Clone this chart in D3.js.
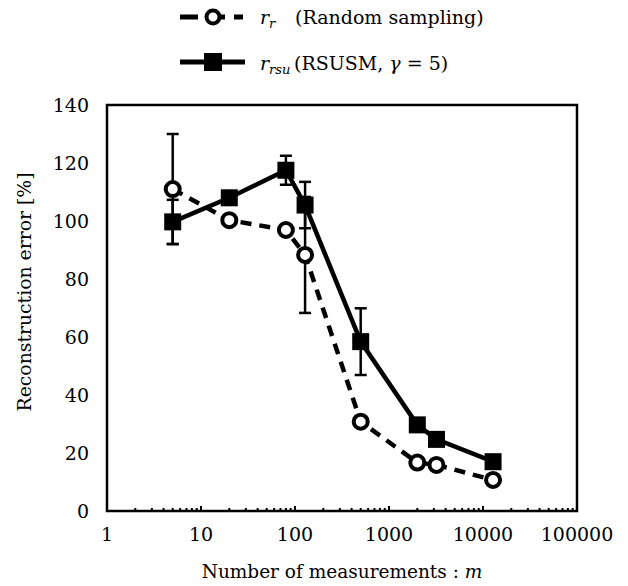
<!DOCTYPE html>
<html><head><meta charset="utf-8">
<script src="https://cdn.jsdelivr.net/npm/d3@7"></script>
<style>body{margin:0;background:#fff}</style>
</head><body><svg id="c" width="628" height="586" font-family="'DejaVu Serif', serif"></svg>
<script>
const measurements = [5, 20, 80, 128, 500, 2000, 3200, 12800];
const randomErr = [111, 100.3, 96.9, 88.3, 30.8, 16.7, 15.9, 10.7];
const randomSd = [19, 0, 0, 20, 0, 0, 0, 0];
const rsusmErr = [99.7, 108, 117.5, 105.5, 58.4, 29.7, 24.7, 17.0];
const rsusmSd = [7.6, 0, 5, 8, 11.5, 0, 0, 0];
const xTicks = [1, 10, 100, 1000, 10000, 100000];
const yTicks = [0, 20, 40, 60, 80, 100, 120, 140];

const svg = d3.select("#c");
const L = 107, R = 577, T = 105, B = 511;
const x = d3.scaleLog().domain([1, 100000]).range([L, R]);
const y = d3.scaleLinear().domain([0, 140]).range([B, T]);
const fs = 19;

const minor = [];
for (let d = 1; d < 100000; d *= 10) for (let k = 2; k <= 9; k++) minor.push(d * k);
svg.append("g").selectAll("line").data(minor).join("line")
  .attr("x1", d => x(d)).attr("x2", d => x(d)).attr("y1", B).attr("y2", B - 3)
  .attr("stroke", "#000").attr("stroke-width", 2);
svg.append("g").selectAll("line").data(xTicks).join("line")
  .attr("x1", d => x(d)).attr("x2", d => x(d)).attr("y1", B).attr("y2", B - 5)
  .attr("stroke", "#000").attr("stroke-width", 2);

svg.append("rect").attr("x", L).attr("y", T).attr("width", R - L).attr("height", B - T)
  .attr("fill", "none").attr("stroke", "#000").attr("stroke-width", 2.5);

svg.append("g").selectAll("text").data(xTicks).join("text")
  .attr("x", d => x(d)).attr("y", 541).attr("text-anchor", "middle")
  .attr("font-size", fs).text(d => d);
svg.append("g").selectAll("text").data(yTicks).join("text")
  .attr("x", 89).attr("y", d => y(d) + 7).attr("text-anchor", "end")
  .attr("font-size", fs).text(d => d);

const xt = svg.append("text").attr("x", 342).attr("y", 578).attr("text-anchor", "middle").attr("font-size", 18.5);
xt.append("tspan").text("Number of measurements : ");
xt.append("tspan").attr("font-style", "italic").text("m");
svg.append("text").attr("transform", "translate(31,292) rotate(-90)").attr("x", -119.5)
  .attr("font-size", fs).attr("textLength", 239).attr("lengthAdjust", "spacingAndGlyphs")
  .text("Reconstruction error [%]");

const series = [
  {vals: randomErr, sd: randomSd, dash: "11,8", marker: "circle"},
  {vals: rsusmErr, sd: rsusmSd, dash: null, marker: "square"}
];
const capW = 6;
series.forEach(s => {
  const g = svg.append("g");
  const rows = measurements.map((m, i) => ({m, v: s.vals[i], sd: s.sd[i]})).filter(r => r.sd > 0);
  rows.forEach(r => {
    g.append("line").attr("x1", x(r.m)).attr("x2", x(r.m)).attr("y1", y(r.v - r.sd)).attr("y2", y(r.v + r.sd))
      .attr("stroke", "#000").attr("stroke-width", 2.5);
    [r.v - r.sd, r.v + r.sd].forEach(e => g.append("line").attr("x1", x(r.m) - capW).attr("x2", x(r.m) + capW)
      .attr("y1", y(e)).attr("y2", y(e)).attr("stroke", "#000").attr("stroke-width", 2.5));
  });
});
series.forEach(s => {
  const line = d3.line().x((d, i) => x(measurements[i])).y(d => y(d));
  svg.append("path").datum(s.vals).attr("d", line).attr("fill", "none").attr("stroke", "#000")
    .attr("stroke-width", 4.5).attr("stroke-dasharray", s.dash);
});
series.forEach(s => {
  const g = svg.append("g");
  if (s.marker === "circle") {
    g.selectAll("circle").data(s.vals).join("circle")
      .attr("cx", (d, i) => x(measurements[i])).attr("cy", d => y(d)).attr("r", 7)
      .attr("fill", "#fff").attr("stroke", "#000").attr("stroke-width", 4);
  } else {
    g.selectAll("rect").data(s.vals).join("rect")
      .attr("x", (d, i) => x(measurements[i]) - 8.5).attr("y", d => y(d) - 8.5)
      .attr("width", 17).attr("height", 17).attr("fill", "#000");
  }
});

const lg = svg.append("g");
lg.append("line").attr("x1", 180).attr("x2", 243).attr("y1", 17).attr("y2", 17)
  .attr("stroke", "#000").attr("stroke-width", 5).attr("stroke-dasharray", "18,9");
lg.append("circle").attr("cx", 213).attr("cy", 17).attr("r", 6.5).attr("fill", "#fff").attr("stroke", "#000").attr("stroke-width", 4);
lg.append("line").attr("x1", 180).attr("x2", 245).attr("y1", 62).attr("y2", 62)
  .attr("stroke", "#000").attr("stroke-width", 5);
lg.append("rect").attr("x", 204).attr("y", 53).attr("width", 18).attr("height", 18).attr("fill", "#000");

const t1 = lg.append("text").attr("x", 260).attr("y", 24).attr("font-size", fs);
t1.append("tspan").attr("font-style", "italic").text("r");
t1.append("tspan").attr("font-style", "italic").attr("font-size", 13).attr("dy", 4).text("r");
lg.append("text").attr("x", 295).attr("y", 24).attr("font-size", fs).text("(Random sampling)");
const t2 = lg.append("text").attr("x", 260).attr("y", 70).attr("font-size", fs);
t2.append("tspan").attr("font-style", "italic").text("r");
t2.append("tspan").attr("font-style", "italic").attr("font-size", 13).attr("dy", 4).text("rsu");
const t3 = lg.append("text").attr("x", 294).attr("y", 70).attr("font-size", fs);
t3.append("tspan").text("(RSUSM, ");
t3.append("tspan").attr("font-style", "italic").text("γ");
t3.append("tspan").text(" = 5)");
</script></body></html>
